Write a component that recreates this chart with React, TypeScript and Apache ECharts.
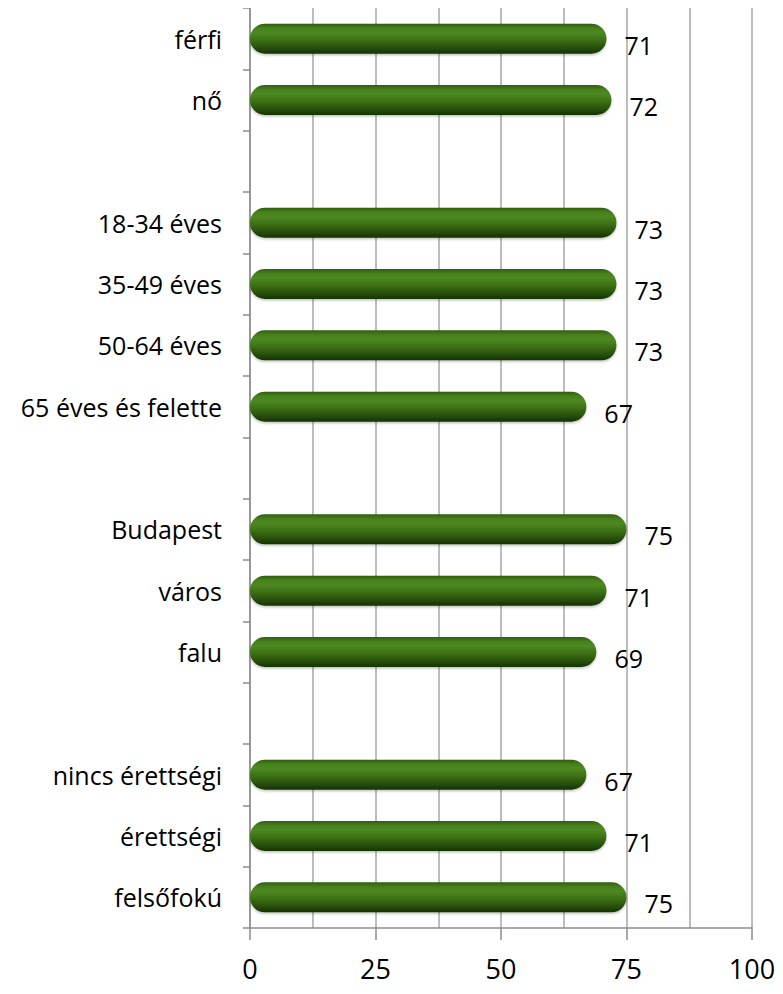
import React, { useEffect, useRef } from "react";
import * as echarts from "echarts";

const categories = [
  "férfi",
  "nő",
  "",
  "18-34 éves",
  "35-49 éves",
  "50-64 éves",
  "65 éves és felette",
  " ",
  "Budapest",
  "város",
  "falu",
  "  ",
  "nincs érettségi",
  "érettségi",
  "felsőfokú",
];

const values: (number | null)[] = [71, 72, null, 73, 73, 73, 67, null, 75, 71, 69, null, 67, 71, 75];

const xTicks = [0, 25, 50, 75, 100];

const FONT = "'Open Sans', 'DejaVu Sans', sans-serif";

export default function App() {
  const ref = useRef<HTMLDivElement>(null);
  useEffect(() => {
    if (!ref.current) return;
    const chart = echarts.init(ref.current, undefined, { renderer: "svg" });
    const grad = new echarts.graphic.LinearGradient(0, 0, 0, 1, [
      { offset: 0, color: "#305d0c" },
      { offset: 0.15, color: "#46801c" },
      { offset: 0.3, color: "#4d8921" },
      { offset: 0.55, color: "#3c7015" },
      { offset: 0.8, color: "#28500a" },
      { offset: 1, color: "#163203" },
    ]);
    chart.setOption({
      animation: false,
      grid: { left: 250, right: 31, top: 8, bottom: 66, containLabel: false },
      xAxis: {
        type: "value",
        min: 0,
        max: 100,
        interval: 25,
        axisLine: { show: true, lineStyle: { color: "#8c8c8c", width: 1.5 } },
        axisTick: { show: true, length: 12, lineStyle: { color: "#8c8c8c", width: 1.5 } },
        axisLabel: {
          margin: 27,
          fontSize: 27,
          fontFamily: FONT,
          color: "#000",
          formatter: (v: number) => (xTicks.includes(v) ? String(v) : ""),
        },
        splitLine: { show: true, lineStyle: { color: "#bdbdbd", width: 2 } },
        minorTick: { show: false, splitNumber: 2 },
        minorSplitLine: { show: true, lineStyle: { color: "#bdbdbd", width: 2 } },
      },
      yAxis: {
        type: "category",
        inverse: true,
        data: categories,
        axisLine: { show: true, lineStyle: { color: "#8c8c8c", width: 1.5 } },
        axisTick: { show: true, length: 7, lineStyle: { color: "#8c8c8c", width: 1.5 } },
        axisLabel: {
          margin: 28,
          fontSize: 25,
          fontFamily: FONT,
          color: "#000",
        },
      },
      series: [
        {
          type: "bar",
          data: values,
          barWidth: 30,
          itemStyle: {
            color: grad,
            borderRadius: 15,
            shadowColor: "rgba(0,0,0,0.25)",
            shadowBlur: 2,
            shadowOffsetY: 1.5,
          },
          label: {
            show: true,
            position: "right",
            distance: 18,
            offset: [0, 6],
            fontSize: 25,
            fontFamily: FONT,
            color: "#000",
          },
        },
      ],
    });
    return () => chart.dispose();
  }, []);
  return <div ref={ref} style={{ width: 783, height: 994, margin: -8 }} />;
}
